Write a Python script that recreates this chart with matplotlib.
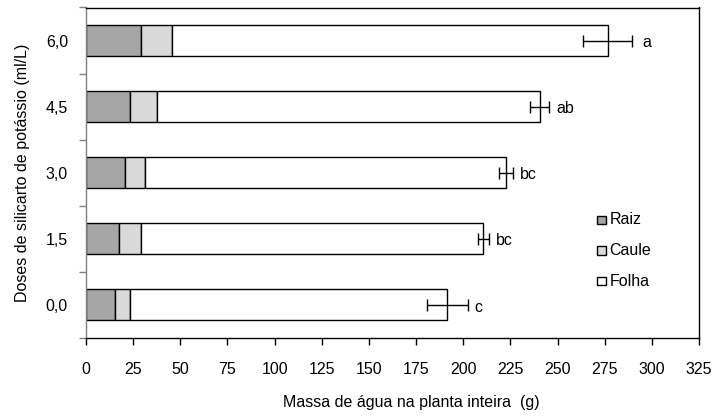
import matplotlib
matplotlib.use("Agg")
import matplotlib.pyplot as plt
from matplotlib.patches import Rectangle
import numpy as np

plt.rcParams['font.family'] = ['Liberation Sans', 'DejaVu Sans']

doses = ["0,0", "1,5", "3,0", "4,5", "6,0"]
raiz = [15.4, 17.5, 20.7, 23.4, 29.2]
caule = [8.0, 11.9, 10.6, 14.1, 16.3]
folha = [168.1, 181.2, 191.2, 203.1, 231.0]
erro = [10.9, 2.8, 3.8, 5.0, 13.0]
letras = ["c", "bc", "bc", "ab", "a"]
xticks = [0, 25, 50, 75, 100, 125, 150, 175, 200, 225, 250, 275, 300, 325]
series = ["Raiz", "Caule", "Folha"]
cores = ['#A6A6A6', '#D9D9D9', 'white']

FS = 11.5
W, H = 713, 416

fig = plt.figure(figsize=(W/100, H/100), dpi=100)
ax = fig.add_axes([86/W, 1-338/H, (699-86)/W, (338-7.5)/H])

y = np.arange(len(doses))
h = 0.47
raiz_a = np.array(raiz)
caule_a = np.array(caule)
folha_a = np.array(folha)
ax.barh(y, raiz_a, height=h, color=cores[0], edgecolor='black', linewidth=1.0)
ax.barh(y, caule_a, left=raiz_a, height=h, color=cores[1], edgecolor='black', linewidth=1.0)
total = raiz_a + caule_a + folha_a
ax.barh(y, folha_a, left=raiz_a + caule_a, height=h, color=cores[2], edgecolor='black', linewidth=1.0)
ax.errorbar(total, y, xerr=erro, fmt='none', ecolor='black', elinewidth=1.0, capsize=4, capthick=1.0)

for yi, t, e, l in zip(y, total, erro, letras):
    ax.annotate(l, (t + e, yi), xytext=(5 if l != 'a' else 7.5, -1.5), textcoords='offset points',
                va='center', ha='left', fontsize=FS)

ax.set_xlim(0, 325)
ax.set_ylim(-0.5, len(doses) - 0.5)
ax.set_xticks(xticks)
ax.set_xticklabels([str(v) for v in xticks], fontsize=FS)
ax.set_yticks(y)
ax.set_yticklabels(doses, fontsize=FS)
ax.set_yticks(np.arange(-0.5, len(doses)), minor=True)
ax.tick_params(axis='y', which='major', length=0, pad=13)
ax.tick_params(axis='y', which='minor', length=5, color='#808080', width=1)
ax.tick_params(axis='x', which='major', length=5, color='black', width=1, pad=12)

ax.spines['left'].set_color('#808080')
for s in ['bottom', 'top', 'right']:
    ax.spines[s].set_color('black')
for s in ax.spines.values():
    s.set_linewidth(1.0)

ax.set_xlabel('Massa de água na planta inteira  (g)', fontsize=FS)
ax.xaxis.set_label_coords((411-86)/(699-86), -(403-338)/(338-7.5))
ax.xaxis.label.set_va('center')
ax.set_ylabel('Doses de silicarto de potássio (ml/L)', fontsize=FS, labelpad=11)

# legend (Excel-style small squares)
leg_y = [220, 250.7, 281]
for nome, cor, ly in zip(series, cores, leg_y):
    fig.patches.append(Rectangle((597/W, 1-(ly+4)/H), 8.5/W, 8.5/H, transform=fig.transFigure,
                                 facecolor=cor, edgecolor='black', linewidth=1.0))
    fig.text(609.5/W, 1-ly/H, nome, fontsize=FS, va='center', ha='left')

fig.savefig('out.png', dpi=100)
